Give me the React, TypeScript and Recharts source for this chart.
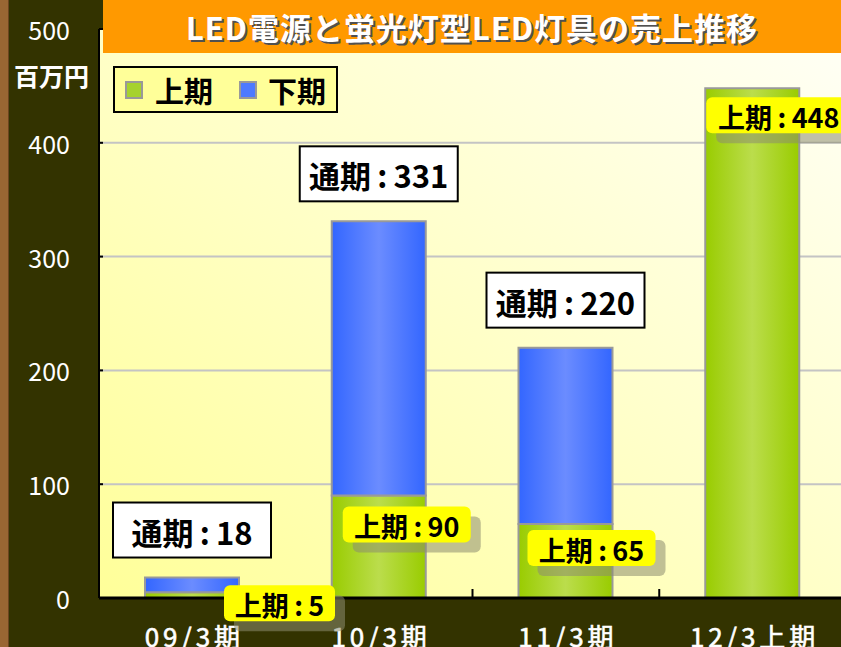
import React from 'react';
import { BarChart, Bar, XAxis, YAxis, CartesianGrid, LabelList } from 'recharts';

const categories = ['09/3期', '10/3期', '11/3期', '12/3上期'];
const firstHalf = [5, 90, 65, 448];
const secondHalf = [13, 241, 155, 0];
const fullYear = [18, 331, 220, null];
const yTicks = [0, 100, 200, 300, 400, 500];

const FONT = '"Noto Sans CJK JP", "Noto Sans", sans-serif';
const CHART_W = 847;
const CHART_H = 647;
const PLOT_LEFT = 99;
const PLOT_TOP = 29;
const PLOT_BOTTOM = 598;
const BAND = (CHART_W - PLOT_LEFT - 1) / categories.length;

// where the yellow "上期" tags sit, relative to bar centre / top of the green part
const tagOffsets = [
  { dx: 32, dy: -7 },
  { dx: -36, dy: 11 },
  { dx: -38, dy: 6 },
  { dx: -46, dy: 9 },
];

const data = categories.map((name, i) => ({
  name,
  first: firstHalf[i],
  second: secondHalf[i],
  total: fullYear[i],
}));

const box = (p: any) => {
  const v = p.viewBox && p.viewBox.width !== undefined ? p.viewBox : p;
  return { x: Number(v.x), y: Number(v.y), width: Number(v.width), height: Number(v.height) };
};

const FirstHalfTag = (props: any) => {
  const { x, y, width } = box(props);
  const i = props.index;
  const val = firstHalf[i];
  const off = tagOffsets[i];
  const w = 94 + 17 * String(val).length;
  const h = 36;
  const left = x + width / 2 + off.dx;
  const top = y + off.dy;
  return (
    <g>
      <rect x={left + 10} y={top + 10} width={w} height={h} rx={6} fill="#8c8c70" opacity={0.55} />
      <rect x={left} y={top} width={w} height={h} rx={6} fill="#ffff00" />
      <text x={left + w / 2} y={top + h / 2 + 1} textAnchor="middle" dominantBaseline="central"
        fontFamily={FONT} fontWeight="bold" fontSize={27} fill="#000">
        {`上期\u2009:\u2009${val}`}
      </text>
    </g>
  );
};

const FullYearTag = (props: any) => {
  const { x, y, width } = box(props);
  const val = fullYear[props.index];
  if (val === null || val === undefined) return null;
  const w = 158;
  const h = 55;
  const cx = x + width / 2;
  const top = y - 20 - h;
  return (
    <g>
      <rect x={cx - w / 2} y={top} width={w} height={h} fill="#fff" stroke="#000" strokeWidth={2} />
      <text x={cx} y={top + h / 2 + 1} textAnchor="middle" dominantBaseline="central"
        fontFamily={FONT} fontWeight="bold" fontSize={31} fill="#000">
        {`通期\u2009:\u2009${val}`}
      </text>
    </g>
  );
};

const YTick = (props: any) => {
  const { y, payload } = props;
  return (
    <g>
      <line x1={PLOT_LEFT} x2={PLOT_LEFT + 4} y1={y} y2={y} stroke="#000" strokeWidth={2} />
      <text x={70} y={y} textAnchor="end" dominantBaseline="central" fontFamily={FONT} fontSize={25} fill="#fff">
        {payload.value}
      </text>
    </g>
  );
};

const XTick = (props: any) => {
  const { x, payload, index } = props;
  return (
    <g>
      {index > 0 && (
        <line x1={x - BAND / 2} x2={x - BAND / 2} y1={PLOT_BOTTOM - 9} y2={PLOT_BOTTOM} stroke="#000" strokeWidth={2} />
      )}
      <text x={x + 2} y={PLOT_BOTTOM + 37} textAnchor="middle" dominantBaseline="central" fontFamily={FONT}
        fontSize={26} letterSpacing={4} fill="#fff" stroke="#fff" strokeWidth={0.6}>
        {payload.value}
      </text>
    </g>
  );
};

const LegendSwatch = ({ color }: { color: string }) => (
  <span style={{ display: 'inline-block', width: 14, height: 14, background: color, border: '2px solid #999' }} />
);

export default function App() {
  return (
    <div style={{ position: 'relative', width: 841, height: 647, overflow: 'hidden', background: '#333300', fontFamily: FONT }}>
      <style>{'body{margin:0}'}</style>
      <div style={{ position: 'absolute', left: 0, top: 0, width: 8, height: 647, background: '#996633', borderRight: '1px solid #6b4420' }} />
      <div style={{
        position: 'absolute', left: 100, top: PLOT_TOP, width: 741, height: PLOT_BOTTOM - PLOT_TOP,
        background: 'linear-gradient(to top right, #ffff99 0%, #ffffc4 45%, #fffff6 100%)',
      }} />
      <div style={{ position: 'absolute', left: 0, top: 0 }}>
        <BarChart width={CHART_W} height={CHART_H} data={data}
          margin={{ top: PLOT_TOP, right: 1, left: 0, bottom: 0 }}>
          <defs>
            <linearGradient id="gGreen" x1="0" y1="0" x2="1" y2="0">
              <stop offset="0%" stopColor="#99cc00" />
              <stop offset="50%" stopColor="#bbdd4c" />
              <stop offset="100%" stopColor="#99cc00" />
            </linearGradient>
            <linearGradient id="gBlue" x1="0" y1="0" x2="1" y2="0">
              <stop offset="0%" stopColor="#3366ff" />
              <stop offset="50%" stopColor="#6b8cff" />
              <stop offset="100%" stopColor="#3366ff" />
            </linearGradient>
          </defs>
          <CartesianGrid vertical={false} stroke="#c4c4c4" strokeWidth={2} />
          <XAxis dataKey="name" height={CHART_H - PLOT_BOTTOM} axisLine={{ stroke: '#000', strokeWidth: 3 }}
            tickLine={false} tick={<XTick />} interval={0} />
          <YAxis width={PLOT_LEFT} domain={[0, 500]} ticks={yTicks} axisLine={{ stroke: '#000', strokeWidth: 2 }}
            tickLine={false} tick={<YTick />} />
          <Bar dataKey="first" stackId="a" barSize={94} fill="url(#gGreen)" stroke="#999999" strokeWidth={2}
            isAnimationActive={false}>
            <LabelList dataKey="first" content={<FirstHalfTag />} />
          </Bar>
          <Bar dataKey="second" stackId="a" barSize={94} fill="url(#gBlue)" stroke="#999999" strokeWidth={2}
            isAnimationActive={false}>
            <LabelList dataKey="second" content={<FullYearTag />} />
          </Bar>
        </BarChart>
      </div>
      <div style={{
        position: 'absolute', left: 103, top: 0, width: 738, height: 53, background: '#ff9900',
        display: 'flex', alignItems: 'center', justifyContent: 'center',
        color: '#fff', fontWeight: 'bold', fontSize: 31, textShadow: '2px 2px 0 #505050', letterSpacing: 1,
      }}>
        LED電源と蛍光灯型LED灯具の売上推移
      </div>
      <div style={{
        position: 'absolute', left: 14, top: 57, color: '#fff', fontWeight: 'bold', fontSize: 25,
      }}>
        百万円
      </div>
      <div style={{
        position: 'absolute', left: 113, top: 66, width: 225, height: 47, boxSizing: 'border-box',
        background: '#ffff99', border: '2px solid #000', display: 'flex', alignItems: 'center',
        paddingLeft: 10, fontWeight: 'bold', fontSize: 29, color: '#000',
      }}>
        <LegendSwatch color="#a6d22e" />
        <span style={{ marginLeft: 12 }}>上期</span>
        <span style={{ marginLeft: 26 }} />
        <LegendSwatch color="#4d7aff" />
        <span style={{ marginLeft: 11 }}>下期</span>
      </div>
    </div>
  );
}
